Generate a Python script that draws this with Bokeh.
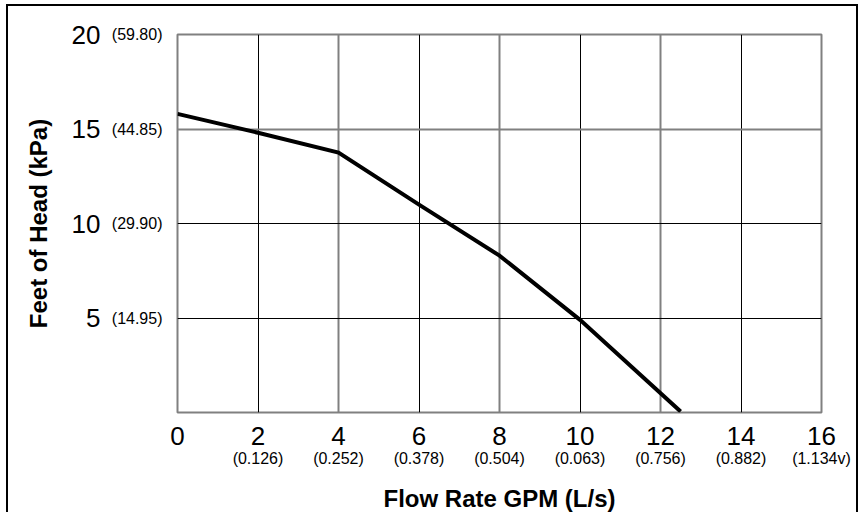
from bokeh.plotting import figure
from bokeh.models import Range1d, LinearAxis, FixedTicker, Grid
from bokeh.embed import file_html
from bokeh.resources import INLINE

# ---- data ----
flow_gpm = [0, 2, 4, 6, 8, 10, 12.5]
head_ft = [15.8, 14.8, 13.75, 11.0, 8.3, 4.9, 0.05]

x_ticks = [0, 2, 4, 6, 8, 10, 12, 14, 16]
x_tick_gpm = ["0", "2", "4", "6", "8", "10", "12", "14", "16"]
x_ticks_ls = [2, 4, 6, 8, 10, 12, 14, 16]
x_tick_ls = ["(0.126)", "(0.252)", "(0.378)", "(0.504)", "(0.063)", "(0.756)", "(0.882)", "(1.134v)"]

y_ticks = [5, 10, 15, 20]
y_tick_ft = ["5", "10", "15", "20"]
y_tick_kpa = ["(14.95)", "(29.90)", "(44.85)", "(59.80)"]

grid_x_dark = [2, 6, 10, 14]
grid_x_gray = [4, 8, 12]
grid_y_dark = [5, 10]
grid_y_gray = [15]

FONT = "Liberation Sans"

p = figure(width=852, height=508, x_range=Range1d(0, 16), y_range=Range1d(0, 20),
           x_axis_type=None, y_axis_type=None,
           output_backend="svg", toolbar_location=None,
           min_border_left=169, min_border_top=28, min_border_right=39, min_border_bottom=98)
p.margin = (4, 0, 0, 6)
p.styles = {"border": "2px solid black", "border-bottom": "none"}
p.background_fill_color = "white"
p.border_fill_color = "white"
p.outline_line_color = "#808080"
p.outline_line_width = 2


def style_axis(ax, size):
    ax.axis_line_color = None
    ax.major_tick_line_color = None
    ax.minor_tick_line_color = None
    ax.major_tick_in = 0
    ax.major_tick_out = 0
    ax.major_label_text_font = FONT
    ax.major_label_text_font_size = size
    ax.major_label_text_color = "black"
    ax.axis_label_text_font = FONT
    ax.axis_label_text_font_style = "bold"
    ax.axis_label_text_font_size = "24px"
    ax.axis_label_text_color = "black"


# x axes
ax_gpm = LinearAxis(ticker=FixedTicker(ticks=x_ticks),
                    major_label_overrides={t: s for t, s in zip(x_ticks, x_tick_gpm)})
style_axis(ax_gpm, "26px")
ax_gpm.major_label_standoff = 14
p.add_layout(ax_gpm, "below")

ax_ls = LinearAxis(ticker=FixedTicker(ticks=x_ticks_ls),
                   major_label_overrides={t: s for t, s in zip(x_ticks_ls, x_tick_ls)},
                   axis_label="Flow Rate GPM (L/s)")
style_axis(ax_ls, "16px")
ax_ls.major_label_standoff = 2
ax_ls.axis_label_standoff = 15
p.add_layout(ax_ls, "below")

# y axes
ax_kpa = LinearAxis(ticker=FixedTicker(ticks=y_ticks),
                    major_label_overrides={t: s for t, s in zip(y_ticks, y_tick_kpa)})
style_axis(ax_kpa, "16px")
ax_kpa.major_label_standoff = 15
p.add_layout(ax_kpa, "left")

ax_ft = LinearAxis(ticker=FixedTicker(ticks=y_ticks),
                   major_label_overrides={t: s for t, s in zip(y_ticks, y_tick_ft)},
                   axis_label="Feet of Head (kPa)")
style_axis(ax_ft, "26px")
ax_ft.major_label_standoff = 8
ax_ft.axis_label_standoff = 17
p.add_layout(ax_ft, "left")

# grids
for dim, ticks, color, width in [(0, grid_x_dark, "black", 1), (0, grid_x_gray, "#808080", 2),
                                  (1, grid_y_dark, "black", 1), (1, grid_y_gray, "#808080", 2)]:
    p.add_layout(Grid(dimension=dim, ticker=FixedTicker(ticks=ticks),
                      grid_line_color=color, grid_line_width=width))

p.line(flow_gpm, head_ft, line_color="black", line_width=4, line_join="miter")

open("out.html", "w").write(file_html(p, INLINE))
